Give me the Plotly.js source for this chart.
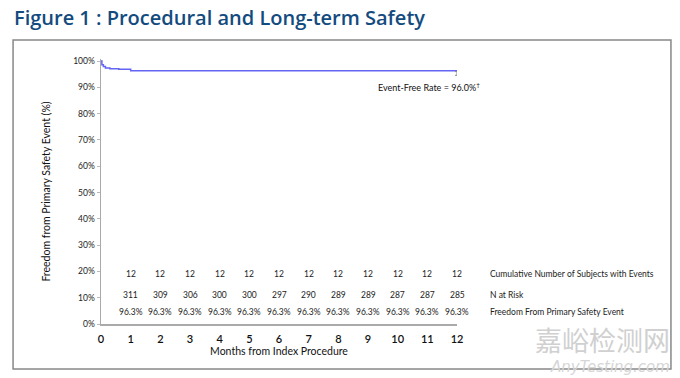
<!DOCTYPE html>
<html><head><meta charset="utf-8">
<script src="https://cdn.plot.ly/plotly-3.0.1.min.js"></script>
<style>html,body{margin:0;padding:0;background:#fff}#c{width:680px;height:378px}</style>
</head><body><div id="c"></div>
<script>
// Kaplan-Meier curve (months, freedom %)
const months = [0, 0.03, 0.08, 0.15, 0.3, 0.6, 1.0, 12];
const freedom = [100, 98.6, 97.9, 97.4, 97.1, 96.9, 96.3, 96.0];
// Table below
const tableMonths = [1,2,3,4,5,6,7,8,9,10,11,12];
const cumEvents = [12,12,12,12,12,12,12,12,12,12,12,12];
const nAtRisk = [311,309,306,300,300,297,290,289,289,287,287,285];
const freedomPct = ["96.3%","96.3%","96.3%","96.3%","96.3%","96.3%","96.3%","96.3%","96.3%","96.3%","96.3%","96.3%"];
const rowLabels = ["Cumulative Number of Subjects with Events","N at Risk","Freedom From Primary Safety Event"];
const xTicks = [0,1,2,3,4,5,6,7,8,9,10,11,12];
const yTicks = [0,10,20,30,40,50,60,70,80,90,100];
const finalRate = 96.0;

const FONT = "Lato, 'Open Sans', sans-serif";
const rowY = [19.2, 11.2, 4.4];
const annotations = [];
const rows = [cumEvents, nAtRisk, freedomPct];
rows.forEach((r, ri) => {
  r.forEach((v, i) => {
    annotations.push({x: tableMonths[i], y: rowY[ri], xref:'x', yref:'y', text: String(v),
      showarrow:false, font:{family:FONT, size:8.5, color:'#222'}});
  });
  annotations.push({x: 1.087, y: rowY[ri], xref:'paper', yref:'y', xanchor:'left', text: rowLabels[ri],
    showarrow:false, font:{family:FONT, size:8.5, color:'#222'}});
});
annotations.push({x: 11.05, y: 90.2, xref:'x', yref:'y', text:'Event-Free Rate = ' + finalRate.toFixed(1) + '%<sup>†</sup>',
  showarrow:false, font:{family:FONT, size:9, color:'#111'}});
annotations.push({x: -0.25, y: 1.155, xref:'paper', yref:'paper', xanchor:'left', yanchor:'middle',
  text:'Figure 1 : Procedural and Long-term Safety', showarrow:false,
  font:{family:"'Open Sans', sans-serif", size:20, color:'#134b7f', weight:600}});
annotations.push({x: 1.6, y: 0.02, xref:'paper', yref:'paper', xanchor:'right', yanchor:'top', borderpad:0,
  text:'嘉峪检测网', showarrow:false, font:{family:"'Noto Sans CJK SC'", size:27, color:'#d0d0d0'}});
annotations.push({x: 1.6, y: -0.125, xref:'paper', yref:'paper', xanchor:'right', yanchor:'top', borderpad:0,
  text:'<i>AnyTesting.com</i>', showarrow:false, font:{family:"'DejaVu Sans'", size:15, color:'#d6d6d6'}});

const traces = [
  {x: months, y: freedom, type:'scatter', mode:'lines', line:{shape:'hv', color:'#6464f5', width:1.5}, hoverinfo:'skip'},
  {x: [12], y: [finalRate], type:'scatter', mode:'none', hoverinfo:'skip',
   error_y:{type:'data', symmetric:false, array:[0], arrayminus:[1.4], width:2, thickness:1, color:'#888'}}
];

const layout = {
  width:680, height:378,
  margin:{l:101, r:223, t:59, b:54},
  paper_bgcolor:'#fff', plot_bgcolor:'#fff',
  showlegend:false,
  xaxis:{range:[0,12], tickvals:xTicks, ticktext:xTicks.map(String), showgrid:false, zeroline:false,
    showline:true, linecolor:'#aaa', linewidth:1.5, ticks:'', ticklabelstandoff:4,
    tickfont:{family:FONT, size:11, color:'#111', weight:600},
    title:{text:'Months from Index Procedure', font:{family:FONT, size:10.5, color:'#111'}, standoff:4}},
  yaxis:{range:[0,100.8], tickvals:yTicks, ticktext:yTicks.map(v=>v+'%'), showgrid:false, zeroline:false,
    showline:true, linecolor:'#aaa', linewidth:1.5, ticks:'outside', ticklen:3, tickcolor:'#bbb',
    tickfont:{family:FONT, size:8.5, color:'#222'},
    title:{text:'Freedom from Primary Safety Event (%)', font:{family:FONT, size:10.5, color:'#111'}, standoff:20}},
  annotations: annotations,
  shapes:[{type:'rect', xref:'paper', yref:'paper', x0:-0.247, x1:1.601, y0:-0.170, y1:1.072,
    line:{color:'#888', width:1.5}, fillcolor:'rgba(0,0,0,0)', layer:'below'}]
};
Plotly.newPlot('c', traces, layout, {staticPlot:true, displayModeBar:false});
</script></body></html>
